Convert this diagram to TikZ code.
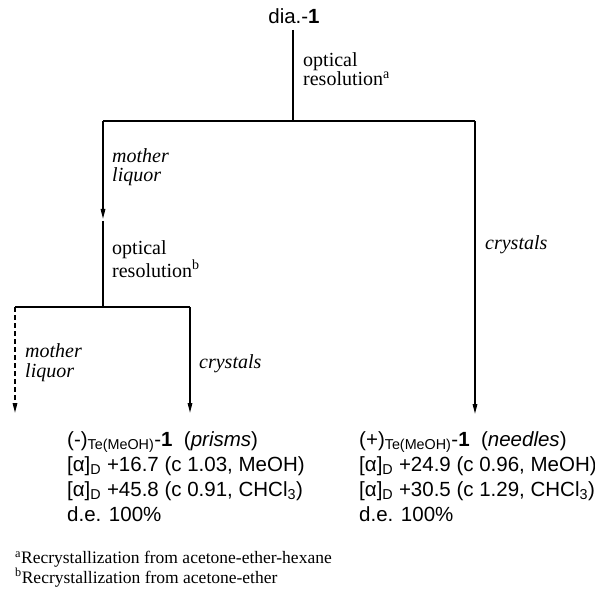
\documentclass[tikz,border=0pt]{standalone}
\usepackage{fontspec}
\setmainfont{Liberation Sans}
\newfontfamily\timesf{Liberation Serif}
\usetikzlibrary{arrows.meta}
\begin{document}
\begin{tikzpicture}[x=1pt,y=-1pt,
  ln/.style={line width=1.4pt},
  arr/.style={ln, -{Triangle[length=10pt,width=4.5pt]}},
  lbl/.style={anchor=base west, inner sep=0pt, align=left, font=\fontsize{20}{19}\selectfont\timesf},
  ilbl/.style={lbl, font=\fontsize{20}{19.5}\selectfont\timesf\itshape},
  prod/.style={anchor=base west, inner sep=0pt, align=left, font=\fontsize{20.5}{25}\selectfont},
  fn/.style={anchor=base west, inner sep=0pt, align=left, font=\fontsize{17.5}{17}\selectfont\timesf}
]
\useasboundingbox (0,0) rectangle (595,591);
% junctions
\coordinate (t0) at (293,30);
\coordinate (j1) at (293,121);
\coordinate (jl) at (103,121);
\coordinate (jr) at (475,121);
\coordinate (m1) at (103,219);
\coordinate (m2) at (103,221);
\coordinate (j2) at (103,307);
\coordinate (jl2) at (15,307);
\coordinate (jr2) at (190,307);
\coordinate (e1) at (15,413);
\coordinate (e2) at (190,413);
\coordinate (e3) at (475,414);
% top compound
\node[anchor=base, inner sep=0pt, font=\fontsize{20.5}{25}\selectfont] (dia) at (294,24) {dia.-\textbf{1}};
% lines
\draw[ln] (t0) -- (j1);
\draw[ln] (jl) -- (jr);
\draw[arr] (jl) -- (m1);
\draw[arr] (jr) -- (e3);
\draw[ln] (m2) -- (j2);
\draw[ln] (jl2) -- (jr2);
\draw[arr, dashed, dash pattern=on 5pt off 3pt] (jl2) -- (e1);
\draw[arr] (jr2) -- (e2);
% labels (anchor = baseline of the last line)
\node[lbl] (or1) at (303,86) {optical\\resolution\textsuperscript{a}};
\node[ilbl] (ml1) at (112,182) {mother\\liquor};
\node[ilbl] (cr1) at (485,249) {crystals};
\node[lbl] (or2) at (112,277) {optical\\resolution\textsuperscript{b}};
\node[ilbl] (ml2) at (25,377) {mother\\liquor};
\node[ilbl] (cr2) at (199,368) {crystals};
% products
\node[prod] (pm) at (67,521) {(-)\textsubscript{Te(MeOH)}-\textbf{1}\ \ (\textit{prisms})\\
{[}α{]}\textsubscript{D} +16.7 (c 1.03, MeOH)\\
{[}α{]}\textsubscript{D} +45.8 (c 0.91, CHCl\textsubscript{3})\\
d.e. 100\%};
\node[prod] (pp) at (359,521) {(+)\textsubscript{Te(MeOH)}-\textbf{1}\ \ (\textit{needles})\\
{[}α{]}\textsubscript{D} +24.9 (c 0.96, MeOH)\\
{[}α{]}\textsubscript{D} +30.5 (c 1.29, CHCl\textsubscript{3})\\
d.e. 100\%};
% footnotes
\node[fn] (fa) at (15,583) {\textsuperscript{a}Recrystallization from acetone-ether-hexane\\
\textsuperscript{b}Recrystallization from acetone-ether};
\end{tikzpicture}
\end{document}
